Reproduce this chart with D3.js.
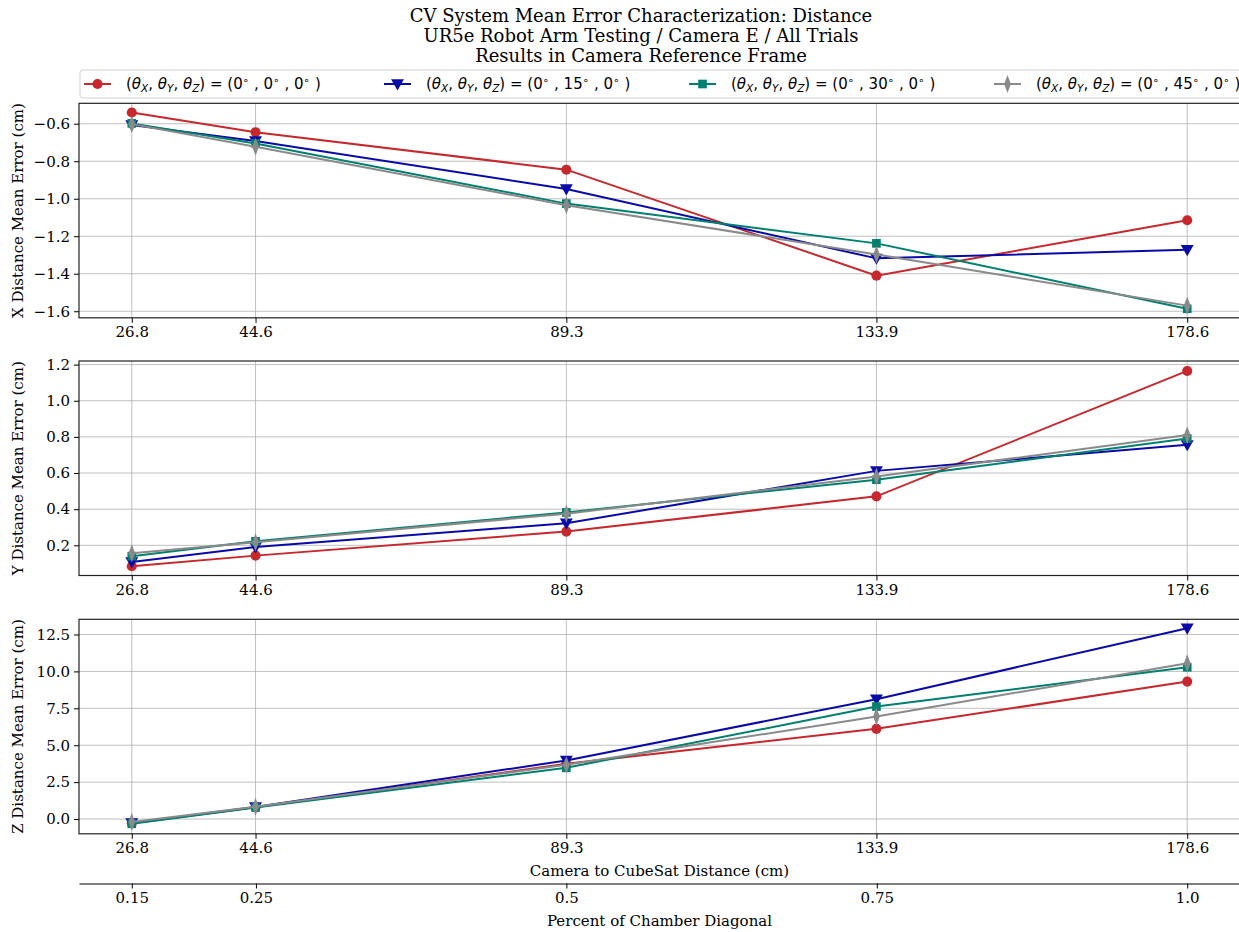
<!DOCTYPE html>
<html>
<head>
  <meta http-equiv="Content-Type" content="text/html;charset=utf-8">
  <title>CV System Mean Error</title>
  <script src="https://d3js.org/d3.v7.min.js"></script>
  <style>
    html, body { margin: 0; padding: 0; background: #fff; }
    text { font-family: "DejaVu Serif", serif; fill: #000; }
    .grid line { stroke: #b0b0b0; stroke-width: 0.8px; }
    .axis path, .axis line { stroke: #000; }
    .legend text { font-family: "DejaVu Sans", sans-serif; }
  </style>
</head>
<body>
<script type="text/javascript">

  // data
  var distances = [26.8, 44.6, 89.3, 133.9, 178.6];
  var percents = [0.15, 0.25, 0.5, 0.75, 1.0];
  var percentLabels = ["0.15", "0.25", "0.5", "0.75", "1.0"];
  var angles = ["0", "15", "30", "45"];
  var colors = ["#c6282d", "#0a0aa8", "#00806f", "#8a8a8a"];
  var markers = ["circle", "triangle", "square", "diamond"];

  var xErr = [
    [-0.540, -0.645, -0.845, -1.410, -1.115],
    [-0.607, -0.692, -0.948, -1.318, -1.272],
    [-0.598, -0.705, -1.026, -1.238, -1.587],
    [-0.602, -0.723, -1.035, -1.297, -1.570]
  ];
  var yErr = [
    [0.084, 0.143, 0.276, 0.471, 1.165],
    [0.108, 0.191, 0.322, 0.612, 0.756],
    [0.140, 0.222, 0.382, 0.563, 0.791],
    [0.156, 0.217, 0.375, 0.581, 0.810]
  ];
  var zErr = [
    [-0.28, 0.80, 3.74, 6.11, 9.31],
    [-0.27, 0.82, 3.97, 8.12, 12.92],
    [-0.32, 0.78, 3.47, 7.62, 10.28],
    [-0.20, 0.83, 3.67, 6.94, 10.55]
  ];
  var xTicks = [-0.6, -0.8, -1.0, -1.2, -1.4, -1.6];
  var yTicks = [0.2, 0.4, 0.6, 0.8, 1.0, 1.2];
  var zTicks = [0.0, 2.5, 5.0, 7.5, 10.0, 12.5];

  var W = 1239, H = 932;
  var left = 79, right = 1240, panelH = 214.5;

  var svg = d3.select("body").append("svg")
    .attr("width", W)
    .attr("height", H);

  var x = d3.scaleLinear().domain([19.21, 186.19]).range([left, right]);
  var xp = d3.scaleLinear().domain([0.1075, 1.0425]).range([left, right]);

  var panels = [
    { top: 103.3, domain: [-1.635, -0.491], ticks: xTicks, data: xErr, label: "X Distance Mean Error (cm)" },
    { top: 361, domain: [0.033, 1.22], ticks: yTicks, data: yErr, label: "Y Distance Mean Error (cm)" },
    { top: 619.3, domain: [-1.0, 13.53], ticks: zTicks, data: zErr, label: "Z Distance Mean Error (cm)" }
  ];

  var symbolFor = {
    circle: d3.symbol().type(d3.symbolCircle).size(80),
    square: d3.symbol().type(d3.symbolSquare).size(75),
    triangle: d3.symbol().type(d3.symbolTriangle).size(72),
    diamond: d3.symbol().type(d3.symbolDiamond).size(70)
  };

  function drawMarker(g, kind, color, cx, cy) {
    var p = g.append("path")
      .attr("d", symbolFor[kind]())
      .attr("fill", color);
    if (kind == "triangle") p.attr("transform", "translate(" + cx + "," + (cy - 1) + ") rotate(180)");
    else if (kind == "diamond") p.attr("transform", "translate(" + cx + "," + cy + ") scale(0.75,1.15)");
    else p.attr("transform", "translate(" + cx + "," + cy + ")");
  }

  var lineFunction = d3.line();

  panels.forEach(function (p) {
    var y = d3.scaleLinear().domain(p.domain).range([p.top + panelH, p.top]);
    var g = svg.append("g");

    // grid
    g.append("g").attr("class", "grid")
      .selectAll("line.h").data(p.ticks).enter().append("line")
      .attr("x1", left).attr("x2", right)
      .attr("y1", function (d) { return y(d); })
      .attr("y2", function (d) { return y(d); });
    g.append("g").attr("class", "grid")
      .selectAll("line.v").data(distances).enter().append("line")
      .attr("x1", function (d) { return x(d); })
      .attr("x2", function (d) { return x(d); })
      .attr("y1", p.top).attr("y2", p.top + panelH);

    // series
    p.data.forEach(function (vals, i) {
      var pts = vals.map(function (v, j) { return [x(distances[j]), y(v)]; });
      g.append("path")
        .attr("d", lineFunction(pts))
        .attr("fill", "none")
        .attr("stroke", colors[i])
        .attr("stroke-width", 2);
      pts.forEach(function (pt) { drawMarker(g, markers[i], colors[i], pt[0], pt[1]); });
    });

    // frame
    g.append("rect")
      .attr("x", left).attr("y", p.top)
      .attr("width", right - left).attr("height", panelH)
      .attr("fill", "none").attr("stroke", "#222").attr("stroke-width", 1.2);

    // axes
    var ya = g.append("g").attr("class", "axis")
      .attr("transform", "translate(" + left + ",0)")
      .call(d3.axisLeft(y).tickValues(p.ticks).tickFormat(d3.format(".1f")).tickSize(5).tickPadding(4));
    ya.select(".domain").remove();
    ya.selectAll("text").style("font-size", "15px").style("font-family", "DejaVu Serif");

    var xa = g.append("g").attr("class", "axis")
      .attr("transform", "translate(0," + (p.top + panelH) + ")")
      .call(d3.axisBottom(x).tickValues(distances).tickFormat(function (d) { return d.toFixed(1); }).tickSize(5).tickPadding(4));
    xa.select(".domain").remove();
    xa.selectAll("text").style("font-size", "15px").style("font-family", "DejaVu Serif");

    svg.append("text")
      .attr("transform", "translate(23," + (p.top + panelH / 2) + ") rotate(-90)")
      .attr("text-anchor", "middle")
      .style("font-size", "15px")
      .text(p.label);
  });

  // bottom labels and secondary axis
  svg.append("text")
    .attr("x", (left + right) / 2).attr("y", 876)
    .attr("text-anchor", "middle").style("font-size", "15px")
    .text("Camera to CubeSat Distance (cm)");

  var pa = svg.append("g").attr("class", "axis")
    .attr("transform", "translate(0,883.5)")
    .call(d3.axisBottom(xp).tickValues(percents).tickFormat(function (d, i) { return percentLabels[i]; })
      .tickSize(5).tickSizeOuter(0).tickPadding(4));
  pa.select(".domain").attr("stroke", "#222").attr("stroke-width", 1.2);
  pa.selectAll("text").style("font-size", "15px").style("font-family", "DejaVu Serif");

  svg.append("text")
    .attr("x", (left + right) / 2).attr("y", 926)
    .attr("text-anchor", "middle").style("font-size", "15px")
    .text("Percent of Chamber Diagonal");

  // title
  var titles = ["CV System Mean Error Characterization: Distance",
    "UR5e Robot Arm Testing / Camera E / All Trials",
    "Results in Camera Reference Frame"];
  svg.selectAll("text.title").data(titles).enter().append("text")
    .attr("class", "title")
    .attr("x", 641)
    .attr("y", function (d, i) { return 22 + i * 20; })
    .attr("text-anchor", "middle")
    .style("font-size", "18px")
    .text(function (d) { return d; });

  // legend
  var lg = svg.append("g").attr("class", "legend");
  lg.append("rect")
    .attr("x", 80).attr("y", 70).attr("width", 1175).attr("height", 28)
    .attr("rx", 3).attr("fill", "#fff").attr("stroke", "#d0d0d0");
  var legendX = [84, 384, 689, 994];
  angles.forEach(function (a, i) {
    var lx = legendX[i], ly = 84;
    lg.append("line")
      .attr("x1", lx).attr("x2", lx + 27).attr("y1", ly).attr("y2", ly)
      .attr("stroke", colors[i]).attr("stroke-width", 2);
    drawMarker(lg, markers[i], colors[i], lx + 13.5, ly);
    var t = lg.append("text")
      .attr("x", lx + 42).attr("y", ly + 5)
      .style("font-size", "15px");
    t.append("tspan").text("(");
    ["X", "Y", "Z"].forEach(function (s, k) {
      t.append("tspan").style("font-style", "italic").text("\u03b8");
      t.append("tspan").style("font-style", "italic").style("font-size", "10.5px").attr("dy", 3).text(s);
      t.append("tspan").attr("dy", -3).text(k < 2 ? ", " : ")");
    });
    t.append("tspan").text(" = (0");
    t.append("tspan").style("font-size", "10.5px").attr("dy", -5).text("\u2218");
    t.append("tspan").attr("dy", 5).text(" , " + a);
    t.append("tspan").style("font-size", "10.5px").attr("dy", -5).text("\u2218");
    t.append("tspan").attr("dy", 5).text(" , 0");
    t.append("tspan").style("font-size", "10.5px").attr("dy", -5).text("\u2218");
    t.append("tspan").attr("dy", 5).text(" )");
  });

</script>
</body>
</html>
